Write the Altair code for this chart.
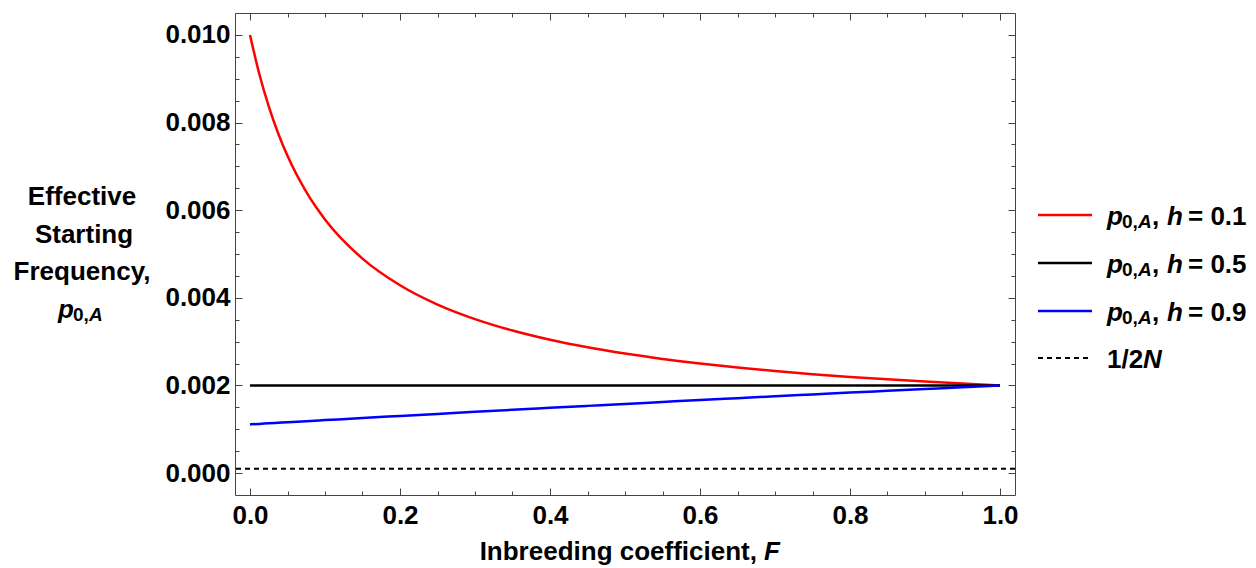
import altair as alt
import pandas as pd

# ---------------- data ----------------
F = [0.0, 0.0125, 0.025, 0.0375, 0.05, 0.075, 0.1, 0.15, 0.2, 0.25, 0.3, 0.35,
     0.4, 0.45, 0.5, 0.55, 0.6, 0.65, 0.7, 0.75, 0.8, 0.85, 0.9, 0.95, 1.0]
p_h01 = [0.01, 0.009101, 0.008367, 0.007757, 0.007241, 0.006418, 0.005789, 0.004894,
         0.004286, 0.003846, 0.003514, 0.003253, 0.003043, 0.002871, 0.002727, 0.002605,
         0.0025, 0.002409, 0.002329, 0.002258, 0.002195, 0.002139, 0.002088, 0.002042, 0.002]
p_h09 = [0.001111, 0.001123, 0.001136, 0.001148, 0.00116, 0.001185, 0.001209, 0.001257,
         0.001304, 0.001351, 0.001398, 0.001444, 0.001489, 0.001534, 0.001579, 0.001623,
         0.001667, 0.00171, 0.001753, 0.001795, 0.001837, 0.001878, 0.001919, 0.00196, 0.002]
F_h05 = [0.0, 1.0]
p_h05 = [0.002, 0.002]
half_N = [0.0001]

series_names = ["h = 0.1", "h = 0.5", "h = 0.9"]
series_colors = ["#ff0000", "#000000", "#0000ff"]

x_major = [0.0, 0.2, 0.4, 0.6, 0.8, 1.0]
x_minor = [0.0, 0.05, 0.1, 0.15, 0.2, 0.25, 0.3, 0.35, 0.4, 0.45, 0.5, 0.55, 0.6,
           0.65, 0.7, 0.75, 0.8, 0.85, 0.9, 0.95, 1.0]
y_major = [0.0, 0.002, 0.004, 0.006, 0.008, 0.010]
y_minor = [0.0, 0.0005, 0.001, 0.0015, 0.002, 0.0025, 0.003, 0.0035, 0.004, 0.0045,
           0.005, 0.0055, 0.006, 0.0065, 0.007, 0.0075, 0.008, 0.0085, 0.009, 0.0095, 0.01]

# ---------------- tables ----------------
rows = []
for f, v in zip(F, p_h01):
    rows.append({"F": f, "p": v, "series": series_names[0]})
for f, v in zip(F_h05, p_h05):
    rows.append({"F": f, "p": v, "series": series_names[1]})
for f, v in zip(F, p_h09):
    rows.append({"F": f, "p": v, "series": series_names[2]})
df = pd.DataFrame(rows)
df_half = pd.DataFrame({"p": half_N})

# ---------------- style ----------------
W, H = 780, 482
FONT = "Liberation Sans"
FS = 26
SUB = 19
FRAME = "#444444"
MAJ, MIN = 7, 4
LW = 2.5

x_scale = alt.Scale(domain=[-0.02, 1.02], nice=False, zero=False)
y_scale = alt.Scale(domain=[-0.0005, 0.0105], nice=False, zero=False)


def ax(orient, values, size, labels=False, fmt=None, pad=5):
    kw = dict(orient=orient, values=values, tickSize=size, offset=-size,
              domain=False, grid=False, labels=labels, title=None,
              tickColor=FRAME, tickWidth=1)
    if labels:
        kw.update(format=fmt, labelFont=FONT, labelFontSize=FS,
                  labelFontWeight="bold", labelColor="black",
                  labelPadding=pad, labelFlush=False, labelOverlap=False)
    return alt.Axis(**kw)


color = alt.Color("series:N",
                  scale=alt.Scale(domain=series_names, range=series_colors),
                  legend=None)

lines = alt.Chart(df).mark_line(strokeWidth=LW, interpolate="monotone").encode(
    x=alt.X("F:Q", scale=x_scale, axis=ax("bottom", x_major, MAJ, True, ".1f", 7)),
    y=alt.Y("p:Q", scale=y_scale, axis=ax("left", y_major, MAJ, True, ".3f", 5)),
    color=color,
    order=alt.Order("F:Q"),
)

ghost1 = alt.Chart(df).mark_point(opacity=0).encode(
    x=alt.X("F:Q", scale=x_scale, axis=ax("bottom", x_minor, MIN)),
    y=alt.Y("p:Q", scale=y_scale, axis=ax("left", y_minor, MIN)),
)
ghost2 = alt.Chart(df).mark_point(opacity=0).encode(
    x=alt.X("F:Q", scale=x_scale, axis=ax("top", x_major, MAJ)),
    y=alt.Y("p:Q", scale=y_scale, axis=ax("right", y_major, MAJ)),
)
ghost3 = alt.Chart(df).mark_point(opacity=0).encode(
    x=alt.X("F:Q", scale=x_scale, axis=ax("top", x_minor, MIN)),
    y=alt.Y("p:Q", scale=y_scale, axis=ax("right", y_minor, MIN)),
)

dashed = alt.Chart(df_half).mark_rule(strokeDash=[5, 4], strokeWidth=2, color="black").encode(
    y=alt.Y("p:Q", scale=y_scale, axis=None),
)

one = pd.DataFrame({"k": [0]})


def txt(s, x, y, size=FS, italic=False, align="left"):
    return alt.Chart(one).mark_text(
        text=s, font=FONT, fontSize=size, fontWeight="bold",
        fontStyle="italic" if italic else "normal",
        align=align, baseline="alphabetic", color="black",
    ).encode(x=alt.value(x), y=alt.value(y))


annotations = []

# y-axis title (multi-line)
annotations += [
    txt("Effective", -153, 192, align="center"),
    txt("Starting", -151, 229.5, align="center"),
    txt("Frequency,", -153, 267, align="center"),
    txt("p", -177, 304.5, italic=True),
    txt("0,", -162, 308, size=SUB),
    txt("A", -146, 308, size=SUB, italic=True),
]

# x-axis title
annotations += [
    txt("Inbreeding coefficient,", 522, 547, align="right"),
    txt("F", 529, 547, italic=True),
]

# legend
leg_y = [202, 250, 298]
for name, col, yy in zip(series_names, series_colors, leg_y):
    annotations.append(
        alt.Chart(one).mark_rule(strokeWidth=LW, color=col).encode(
            x=alt.value(803), x2=alt.value(857), y=alt.value(yy))
    )
    val = name.split("=")[1].strip()
    annotations += [
        txt("p", 872, yy + 10, italic=True),
        txt("0,", 887, yy + 13, size=SUB),
        txt("A", 903, yy + 13, size=SUB, italic=True),
        txt(",", 917, yy + 10),
        txt("h", 932, yy + 10, italic=True),
        txt("= " + val, 953, yy + 10),
    ]
annotations.append(
    alt.Chart(one).mark_rule(strokeWidth=2, color="black", strokeDash=[5, 4]).encode(
        x=alt.value(803), x2=alt.value(857), y=alt.value(345))
)
annotations += [
    txt("1/2", 872, 355),
    txt("N", 908, 355, italic=True),
]

chart = alt.layer(lines, dashed, ghost1, ghost2, ghost3, *annotations).resolve_axis(
    x="independent", y="independent"
).properties(
    width=W, height=H,
    autosize=alt.AutoSizeParams(type="none"),
    padding={"left": 227, "top": 5, "right": 233, "bottom": 72},
    background="white",
).configure_view(stroke=FRAME, strokeWidth=1)

chart.save("out.html", embed_options={"renderer": "svg", "actions": False})
